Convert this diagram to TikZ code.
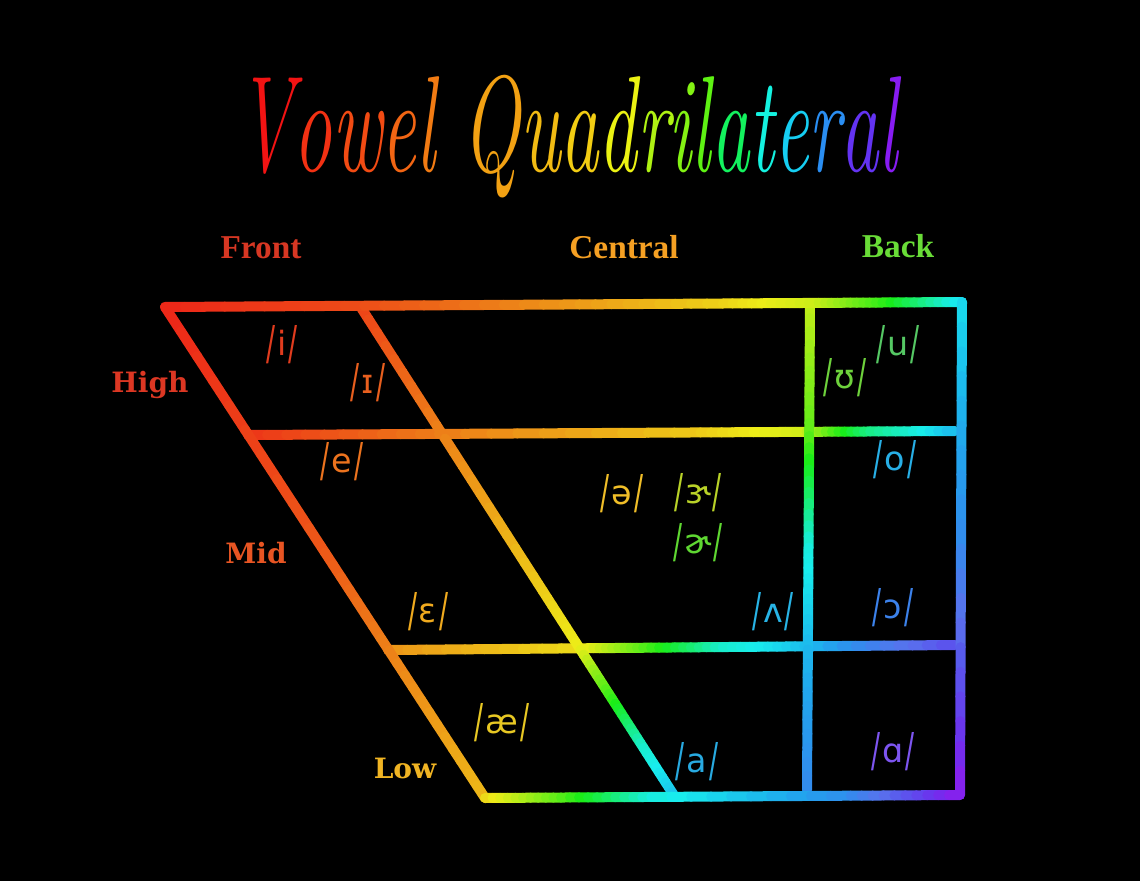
\PassOptionsToPackage{rgb}{xcolor}
\documentclass[tikz,border=0pt]{standalone}
\usepackage{fontspec}
\usetikzlibrary{calc}
\newfontfamily\colfont{Liberation Serif}
\newfontfamily\rowfont{DejaVu Serif}
\newfontfamily\ipafont{DejaVu Sans}
\newcommand\hc[2]{\pgfmathsetmacro\ss{0.92-0.25*exp(-((#1-235)/25)^2)}\definecolor{tmpc}{Hsb}{#1,\ss,0.95}\colorlet{tc}[rgb]{tmpc}\textcolor{tc}{#2}}
\newcommand\slsh{\raisebox{-0.25ex}{\scalebox{0.8}[1.4]{/}}}
\newcommand\ipa[1]{\slsh\kern0.06em#1\kern0.06em\slsh}
\newcommand\rseg[6]{%
  \foreach \k in {1,...,10}{%
    \pgfmathsetmacro\sA{#3+(#4-#3)*(\k-1)/10}%
    \pgfmathsetmacro\sB{#3+(#4-#3)*\k/10}%
    \pgfmathsetmacro\hh{#5+(#6-#5)*(\k-0.5)/10}%
    \pgfmathsetmacro\ss{0.9-0.28*exp(-((\hh-235)/25)^2)}%
    \definecolor{tmpc}{Hsb}{\hh,\ss,0.93}%
    \colorlet{segc}[rgb]{tmpc}%
    \draw[gridline,draw=segc] ($(#1)!\sA!(#2)$) -- ($(#1)!\sB!(#2)$);
  }%
}
\newcommand\gline[4]{%
  \foreach \t/\h [remember=\t as \lt (initially 0), remember=\h as \lh (initially #3)] in {#4}{%
    \rseg{#1}{#2}{\lt}{\t}{\lh}{\h}%
  }%
}
\definecolor{cFront}{RGB}{215,55,35}
\definecolor{cCentral}{RGB}{245,160,35}
\definecolor{cBack}{RGB}{105,220,55}
\definecolor{cHigh}{RGB}{220,55,35}
\definecolor{cMid}{RGB}{232,85,35}
\definecolor{cLow}{RGB}{240,180,35}
\tikzset{
  gridline/.style={line width=7.5pt, line cap=round},
  collab/.style={font=\colfont\bfseries\fontsize{25}{25}\selectfont, inner sep=0pt},
  rowlab/.style={font=\rowfont\bfseries\fontsize{21}{21}\selectfont, inner sep=0pt},
  vow/.style={font=\ipafont\fontsize{25}{25}\selectfont, inner sep=0pt},
}
\begin{document}
\begin{tikzpicture}[x=0.75pt,y=-0.75pt]
\fill[black] (0,0) rectangle (1140,881);
\useasboundingbox (0,0) rectangle (1140,881);
% corners
\coordinate (TL) at (165,307);
\coordinate (TR) at (962,302);
\coordinate (BR) at (960,795);
\coordinate (BL) at (485,798);
\coordinate (IT) at (360,306);
\coordinate (IB) at (675,797);
\coordinate (HML) at (248,435);
\coordinate (HMR) at (955,431);
\coordinate (MLL) at (388,650);
\coordinate (MLR) at (955,645);
\coordinate (VT) at (810,305);
\coordinate (VB) at (807,790);
% lines
\gline{HML}{HMR}{8}{0.27/28, 0.64/50, 0.79/68, 0.88/150, 1/195}
\gline{MLL}{MLR}{35}{0.34/55, 0.45/100, 0.59/170, 0.75/195, 1/245}
\gline{IT}{IB}{12}{0.27/30, 0.55/48, 0.7/60, 0.8/110, 0.9/170, 1/192}
\gline{VT}{VB}{72}{0.27/100, 0.5/175, 0.71/195, 1/212}
\gline{TL}{TR}{4}{0.25/15, 0.5/35, 0.7/52, 0.82/70, 0.9/110, 1/185}
\gline{TL}{BL}{4}{0.5/18, 0.75/32, 1/45}
\gline{BL}{BR}{52}{0.16/100, 0.35/175, 0.77/210, 1/272}
\gline{TR}{BR}{185}{0.5/212, 1/272}
% title
\node[inner sep=0pt] (title) at (568,137) {\scalebox{1.01}[1.8]{\itshape\fontsize{57}{57}\selectfont
  \hc{0}{V}\hc{8}{o}\hc{15}{w}\hc{22}{e}\hc{28}{l} \hc{38}{Q}\hc{45}{u}\hc{50}{a}\hc{62}{d}\hc{78}{r}\hc{90}{i}\hc{100}{l}\hc{140}{a}\hc{175}{t}\hc{190}{e}\hc{210}{r}\hc{255}{a}\hc{270}{l}}};
% column labels
\node[collab, text=cFront] (front) at (261,248) {Front};
\node[collab, text=cCentral] (central) at (624,247) {Central};
\node[collab, text=cBack] (back) at (898,246) {Back};
% row labels
\node[rowlab, text=cHigh] (high) at (150,385) {High};
\node[rowlab, text=cMid] (mid) at (256,553) {Mid};
\node[rowlab, text=cLow] (low) at (405,768) {Low};
% vowels
\node[vow, text={rgb,255:red,225;green,60;blue,30}] (vi) at (282,345) {\ipa{i}};
\node[vow, text={rgb,255:red,232;green,95;blue,30}] (vI) at (368,383) {\ipa{ɪ}};
\node[vow, text={rgb,255:red,110;green,210;blue,60}] (vU) at (845,378) {\ipa{ʊ}};
\node[vow, text={rgb,255:red,85;green,200;blue,100}] (vu) at (898,345) {\ipa{u}};
\node[vow, text={rgb,255:red,236;green,115;blue,30}] (ve) at (342,462) {\ipa{e}};
\node[vow, text={rgb,255:red,40;green,175;blue,230}] (vo) at (895,460) {\ipa{o}};
\node[vow, text={rgb,255:red,240;green,190;blue,40}] (vschwa) at (622,494) {\ipa{ə}};
\node[vow, text={rgb,255:red,185;green,210;blue,40}] (vrr) at (698,493) {\ipa{ɝ}};
\node[vow, text={rgb,255:red,95;green,215;blue,50}] (vr) at (698,543) {\ipa{ɚ}};
\node[vow, text={rgb,255:red,240;green,170;blue,30}] (veps) at (428,612) {\ipa{ɛ}};
\node[vow, text={rgb,255:red,40;green,180;blue,230}] (vwedge) at (773,612) {\ipa{ʌ}};
\node[vow, text={rgb,255:red,60;green,130;blue,235}] (vopen) at (893,608) {\ipa{ɔ}};
\node[vow, text={rgb,255:red,232;green,200;blue,35}] (vae) at (502,723) {\ipa{æ}};
\node[vow, text={rgb,255:red,40;green,170;blue,225}] (va) at (697,762) {\ipa{a}};
\node[vow, text={rgb,255:red,125;green,85;blue,240}] (vA) at (893,752) {\ipa{ɑ}};
\end{tikzpicture}
\end{document}
